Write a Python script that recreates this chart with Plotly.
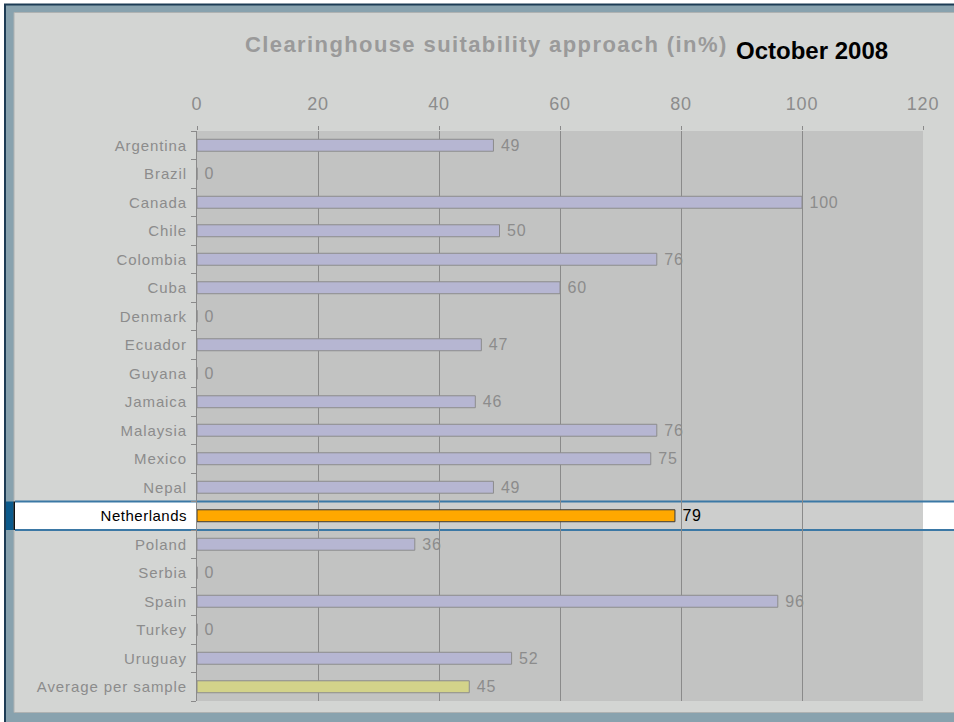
import plotly.graph_objects as go

categories = ["Argentina", "Brazil", "Canada", "Chile", "Colombia", "Cuba", "Denmark",
              "Ecuador", "Guyana", "Jamaica", "Malaysia", "Mexico", "Nepal", "Netherlands",
              "Poland", "Serbia", "Spain", "Turkey", "Uruguay", "Average per sample"]
values = [49, 0, 100, 50, 76, 60, 0, 47, 0, 46, 76, 75, 49, 79, 36, 0, 96, 0, 52, 45]
x_ticks = [0, 20, 40, 60, 80, 100, 120]
highlight = "Netherlands"
average_label = "Average per sample"

W, H = 954, 722
ML, MR, MT, MB = 197, 31, 131, 21
PW, PH = W - ML - MR, H - MT - MB

def px(x):
    return (x - ML) / PW

def py(y):
    return (H - MB - y) / PH

def spaced(s, ls, color=None):
    st = "letter-spacing:%spx" % ls
    if color:
        st += ";color:%s" % color
    return "<span style='%s'>%s</span>" % (st, s)

GRAY = "#8c8c8c"
bar_colors, line_colors, text_colors, tick_text, bar_text = [], [], [], [], []
for c, v in zip(categories, values):
    if c == highlight:
        bar_colors.append("#ffa800"); line_colors.append("#3a3a3a"); text_colors.append("#000000")
        tick_text.append(spaced(c, 0.5, "#000000"))
    elif c == average_label:
        bar_colors.append("#d3d38a"); line_colors.append(GRAY); text_colors.append(GRAY)
        tick_text.append(spaced(c, 0.9))
    else:
        bar_colors.append("#b6b6d2"); line_colors.append(GRAY); text_colors.append(GRAY)
        tick_text.append(spaced(c, 0.9))
    bar_text.append(" " + spaced(str(v), 0.8))

fig = go.Figure(go.Bar(
    x=values, y=categories, orientation="h",
    marker=dict(color=bar_colors, line=dict(color=line_colors, width=1)),
    text=bar_text, textposition="outside", constraintext="none",
    textfont=dict(color=text_colors, size=16, family="Liberation Sans"),
    cliponaxis=False, width=0.42, hoverinfo="skip",
))

hi = categories.index(highlight)
shapes = [
    # outer frame
    dict(type="rect", xref="paper", yref="paper", x0=px(5), x1=px(W + 5), y0=py(4.5), y1=py(H + 5),
         fillcolor="#88a2ae", line=dict(color="#1d3c55", width=2), layer="below"),
    dict(type="rect", xref="paper", yref="paper", x0=px(14), x1=px(W + 5), y0=py(12.5), y1=py(712.5),
         fillcolor="#d3d5d3", line=dict(color="#aeb2b2", width=1), layer="below"),
    # highlighted row
    dict(type="rect", xref="paper", yref="y", x0=px(15), x1=px(W + 5), y0=hi - 0.5, y1=hi + 0.5,
         fillcolor="#ffffff", line=dict(width=0), layer="below"),
    dict(type="rect", xref="paper", yref="y", x0=px(6), x1=px(13.5), y0=hi - 0.5, y1=hi + 0.5,
         fillcolor="#0b5a8c", line=dict(width=0), layer="below"),
    dict(type="rect", xref="paper", yref="y", x0=px(13.5), x1=px(15), y0=hi - 0.5, y1=hi + 0.5,
         fillcolor="#111111", line=dict(width=0), layer="below"),
    # plot area
    dict(type="rect", xref="paper", yref="paper", x0=0, x1=1, y0=0, y1=1,
         fillcolor="#c2c3c2", line=dict(width=0), layer="below"),
    dict(type="rect", xref="paper", yref="y", x0=0, x1=1, y0=hi - 0.5, y1=hi + 0.5,
         fillcolor="#cdcecd", line=dict(width=0), layer="below"),
    dict(type="line", xref="paper", yref="y", x0=px(15), x1=px(W + 5), y0=hi - 0.5, y1=hi - 0.5,
         line=dict(color="#3b78a5", width=2), layer="below"),
    dict(type="line", xref="paper", yref="y", x0=px(15), x1=px(W + 5), y0=hi + 0.5, y1=hi + 0.5,
         line=dict(color="#3b78a5", width=2), layer="below"),
]

annotations = [
    dict(text="<b>" + spaced("Clearinghouse suitability approach (in%)", 1.4) + "</b>",
         xref="paper", yref="paper",
         x=px(486), y=py(45), xanchor="center", yanchor="middle", showarrow=False,
         font=dict(family="Liberation Sans", size=22, color="#9a9a9a")),
    dict(text="<b>October 2008</b>", xref="paper", yref="paper",
         x=px(812), y=py(50), xanchor="center", yanchor="middle", showarrow=False,
         font=dict(family="Liberation Sans", size=24, color="#000000")),
]

fig.update_layout(
    width=W, height=H,
    margin=dict(l=ML, r=MR, t=MT, b=MB, pad=0),
    paper_bgcolor="#ffffff", plot_bgcolor="rgba(0,0,0,0)",
    showlegend=False, shapes=shapes, annotations=annotations,
    font=dict(family="Liberation Sans", color=GRAY),
    xaxis=dict(side="top", range=[0, 120], tickvals=x_ticks,
               ticktext=[spaced(str(t), 0.8) for t in x_ticks],
               showgrid=True, gridcolor="#8a8a8a", gridwidth=1, zeroline=False,
               ticks="outside", ticklen=4, tickcolor="#8a8a8a", ticklabelstandoff=9,
               tickfont=dict(size=18, color=GRAY), fixedrange=True),
    yaxis=dict(type="category", categoryorder="array", categoryarray=categories,
               autorange="reversed", tickvals=categories, ticktext=tick_text,
               ticks="outside", ticklen=5, tickcolor="#8a8a8a", tickson="boundaries",
               ticklabelstandoff=6,
               showline=True, linecolor="#8a8a8a", linewidth=1, showgrid=False,
               tickfont=dict(size=15, color=GRAY), fixedrange=True),
)

fig.write_html("out.html", config={"displayModeBar": False},
               post_script="document.body.style.margin='0';document.body.style.overflow='hidden';")
